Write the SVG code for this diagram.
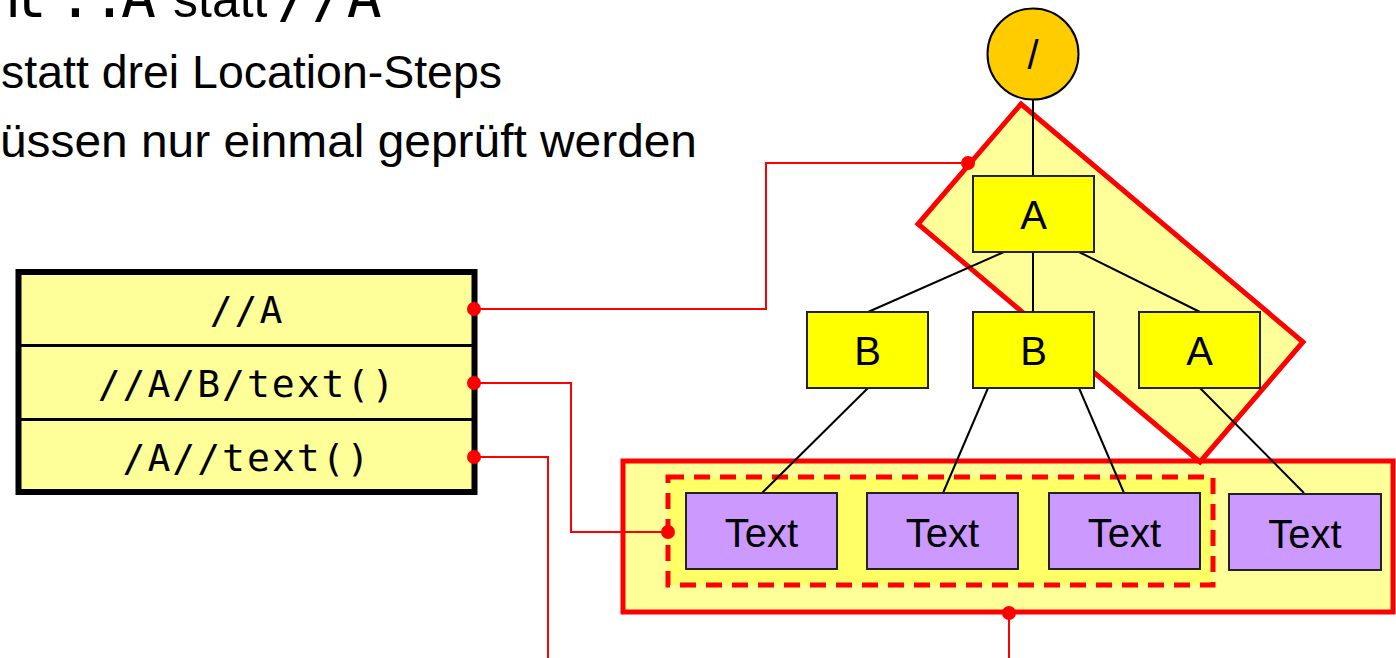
<svg xmlns="http://www.w3.org/2000/svg" width="1396" height="658" viewBox="0 0 1396 658">
<style>
.sans{font-family:"Liberation Sans",Arial,sans-serif;fill:#000}
.mono{font-family:"DejaVu Sans Mono","Liberation Mono",monospace;fill:#000}
.node{fill:#FFFF00;stroke:#222;stroke-width:2}
.txt{fill:#CC99FF;stroke:#222;stroke-width:2}
.edge{stroke:#000;stroke-width:2;fill:none}
.conn{stroke:#FF0000;stroke-width:2;fill:none}
.dot{fill:#FF0000}
.lbl{font-family:"Liberation Sans",Arial,sans-serif;font-size:40px;text-anchor:middle;fill:#000}
.row{font-family:"DejaVu Sans Mono","Liberation Mono",monospace;font-size:38px;letter-spacing:2px;text-anchor:middle;fill:#000}
</style>
<rect width="1396" height="658" fill="#FFFFFF"/>
<g id="heading">
<text y="17"><tspan class="mono" x="-14 12 58 92 121" font-size="58">nt::A</tspan><tspan class="sans" x="173" font-size="50">statt</tspan><tspan class="mono" x="277" font-size="58">//A</tspan></text>
<text class="sans" x="1" y="88" font-size="46" textLength="501" lengthAdjust="spacingAndGlyphs">statt drei Location-Steps</text>
<text class="sans" x="0" y="157" font-size="46" textLength="697" lengthAdjust="spacingAndGlyphs">üssen nur einmal geprüft werden</text>
</g>
<g id="group-descendants">
<rect x="623" y="461" width="770" height="151" fill="#FFFF99" stroke="#FF0000" stroke-width="5"/>
</g>
<g id="group-B-texts">
<rect x="668" y="477" width="545" height="108" fill="#FFFF66" stroke="#FF0000" stroke-width="5" stroke-dasharray="16,10"/>
</g>
<g id="group-A">
<polygon points="1021,104 1303,342 1200,462 918,224" fill="#FFFF99" stroke="#FF0000" stroke-width="5"/>
</g>
<g id="edges">
<line class="edge" x1="1033" y1="99" x2="1033" y2="176"/>
<line class="edge" x1="1004" y1="252" x2="868" y2="312"/>
<line class="edge" x1="1033" y1="252" x2="1033" y2="312"/>
<line class="edge" x1="1079" y1="252" x2="1200" y2="312"/>
<line class="edge" x1="868" y1="388" x2="762" y2="493"/>
<line class="edge" x1="988" y1="388" x2="943" y2="493"/>
<line class="edge" x1="1079" y1="388" x2="1124" y2="493"/>
<line class="edge" x1="1200" y1="388" x2="1304" y2="493"/>
</g>
<g id="root">
<circle cx="1033" cy="54" r="45.5" fill="#FFCC00" stroke="#000" stroke-width="2"/>
<text class="lbl" x="1033" y="69" font-size="42">/</text>
</g>
<g id="node-A1"><rect class="node" x="973" y="176" width="121" height="76"/><text class="lbl" x="1033.5" y="229">A</text></g>
<g id="node-B1"><rect class="node" x="807" y="312" width="121" height="76"/><text class="lbl" x="867.5" y="365">B</text></g>
<g id="node-B2"><rect class="node" x="973" y="312" width="121" height="76"/><text class="lbl" x="1033.5" y="365">B</text></g>
<g id="node-A2"><rect class="node" x="1139" y="312" width="121" height="76"/><text class="lbl" x="1199.5" y="365">A</text></g>
<g id="node-T1"><rect class="txt" x="686" y="493" width="151" height="76"/><text class="lbl" x="761.5" y="547">Text</text></g>
<g id="node-T2"><rect class="txt" x="867" y="493" width="151" height="76"/><text class="lbl" x="942.5" y="547">Text</text></g>
<g id="node-T3"><rect class="txt" x="1049" y="493" width="151" height="76"/><text class="lbl" x="1124.5" y="547">Text</text></g>
<g id="node-T4"><rect class="txt" x="1229" y="494" width="152" height="76"/><text class="lbl" x="1305" y="548">Text</text></g>
<g id="query-table">
<rect x="18.5" y="272" width="456" height="220" fill="#FFFF99" stroke="#000" stroke-width="6"/>
<line x1="18" y1="345.5" x2="475" y2="345.5" stroke="#000" stroke-width="3"/>
<line x1="18" y1="419.5" x2="475" y2="419.5" stroke="#000" stroke-width="3"/>
<text class="row" x="247" y="323">//A</text>
<text class="row" x="247" y="397">//A/B/text()</text>
<text class="row" x="247" y="471">/A//text()</text>
</g>
<g id="connectors">
<polyline class="conn" points="474,309 766,309 766,163 968,163"/>
<polyline class="conn" points="474,383 571,383 571,532 668,532"/>
<polyline class="conn" points="474,457 548,457 548,658"/>
<line class="conn" x1="1009" y1="613" x2="1009" y2="658"/>
<circle class="dot" cx="474" cy="309" r="7"/>
<circle class="dot" cx="474" cy="383" r="7"/>
<circle class="dot" cx="474" cy="457" r="7"/>
<circle class="dot" cx="968" cy="163" r="7"/>
<circle class="dot" cx="668" cy="532" r="7"/>
<circle class="dot" cx="1009" cy="613" r="7"/>
</g>
</svg>
